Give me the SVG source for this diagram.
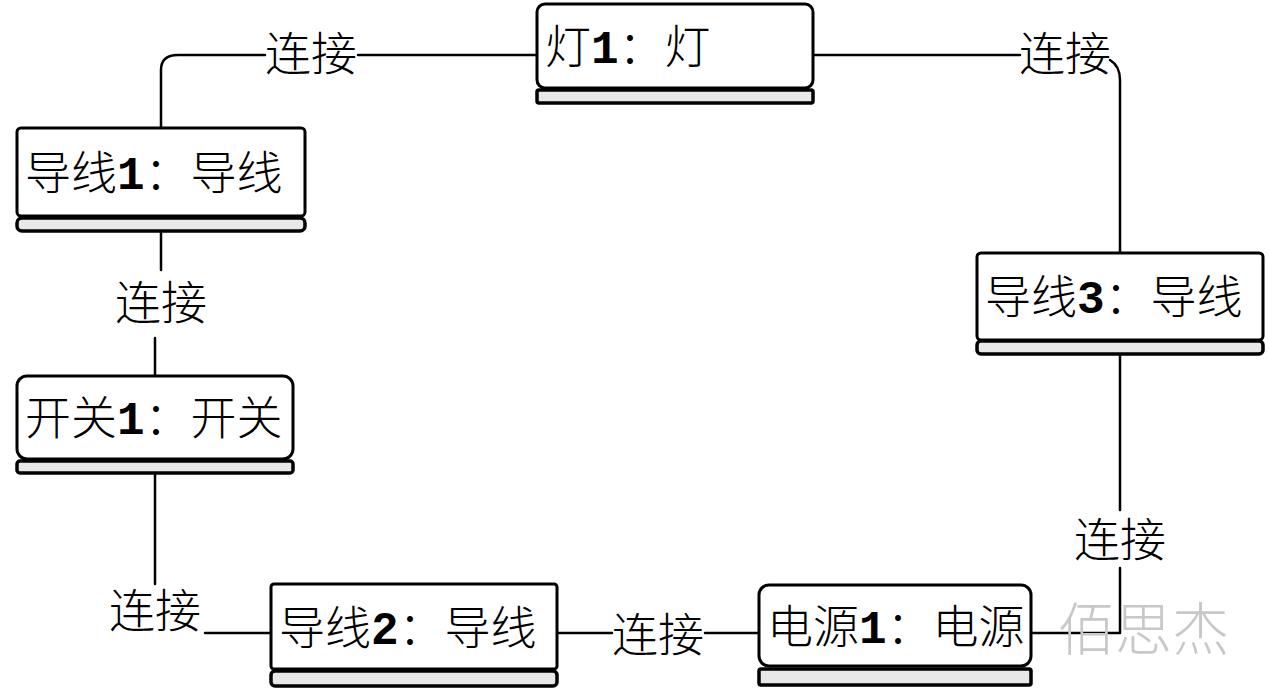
<svg xmlns="http://www.w3.org/2000/svg" width="1269" height="691" viewBox="0 0 1269 691">
<style>
.box{fill:#fff;stroke:#000;stroke-width:3;stroke-linejoin:round}
.bar{fill:#e8e8e8;stroke:#000;stroke-width:3.5}
.t{font-family:"Noto Sans CJK SC",sans-serif;font-size:46px;font-weight:300;fill:#000}
.n{font-family:"Liberation Mono",monospace;font-weight:bold}
.c{fill:none;stroke:#000;stroke-width:2.5;stroke-linecap:round;stroke-linejoin:round}
.lbl{font-family:"Noto Sans CJK SC",sans-serif;font-size:46px;font-weight:300;fill:#000;text-anchor:middle}
.wm{font-family:"Noto Sans CJK SC",sans-serif;font-size:57px;font-weight:300;fill:#c8c8c8}
</style>
<rect width="1269" height="691" fill="#fff"/>
<g id="connectors">
<path class="c" d="M161 128 V70 Q161 55 178 55 H265"/>
<path class="c" d="M358 55 H537"/>
<path class="c" d="M813 55 H1020"/>
<path class="c" d="M1110 60 Q1120 66 1120 80 V253"/>
<path class="c" d="M1120 355 V510"/>
<path class="c" d="M1120 568 V633 H1031"/>
<path class="c" d="M759 633 H705"/>
<path class="c" d="M612 633 H557"/>
<path class="c" d="M271 633 H205"/>
<path class="c" d="M155 475 V584"/>
<path class="c" d="M155 376 V338"/>
<path class="c" d="M161 232 V270"/>
<text class="lbl" x="311" y="70">连接</text>
<text class="lbl" x="1065" y="70">连接</text>
<text class="lbl" x="161" y="319">连接</text>
<text class="lbl" x="1120" y="556">连接</text>
<text class="lbl" x="658" y="651">连接</text>
<text class="lbl" x="155" y="627">连接</text>
</g>
<g id="node-deng1">
<rect class="box" x="537" y="4" width="276" height="84" rx="8"/>
<rect class="bar" x="537" y="90" width="276" height="13" rx="2"/>
<text class="t" x="545" y="63">灯<tspan class="n">1</tspan>：灯</text>
</g>
<g id="node-daoxian1">
<rect class="box" x="17" y="128" width="288" height="88" rx="4"/>
<rect class="bar" x="17" y="218" width="288" height="13" rx="5"/>
<text class="t" x="25" y="189">导线<tspan class="n">1</tspan>：导线</text>
</g>
<g id="node-daoxian3">
<rect class="box" x="977" y="253" width="286" height="87" rx="4"/>
<rect class="bar" x="977" y="341" width="286" height="13" rx="4"/>
<text class="t" x="985" y="313">导线<tspan class="n">3</tspan>：导线</text>
</g>
<g id="node-kaiguan1">
<rect class="box" x="17" y="376" width="276" height="83" rx="10"/>
<rect class="bar" x="17" y="461" width="276" height="12" rx="3"/>
<text class="t" x="25" y="434">开关<tspan class="n">1</tspan>：开关</text>
</g>
<g id="node-daoxian2">
<rect class="box" x="271" y="584" width="286" height="85" rx="3"/>
<rect class="bar" x="271" y="671" width="286" height="15" rx="4"/>
<text class="t" x="279" y="644">导线<tspan class="n">2</tspan>：导线</text>
</g>
<g id="node-dianyuan1">
<rect class="box" x="759" y="585" width="272" height="81" rx="10"/>
<rect class="bar" x="759" y="669" width="272" height="16" rx="2"/>
<text class="t" x="767" y="643">电源<tspan class="n">1</tspan>：电源</text>
</g>
<text class="wm" x="1058" y="650">佰思杰</text>
</svg>
